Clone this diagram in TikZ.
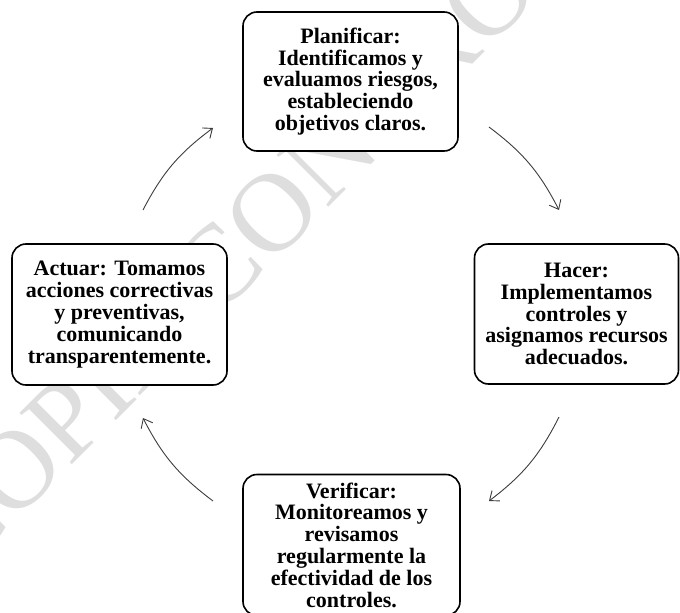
\documentclass[tikz,border=0pt]{standalone}
\usepackage{fontspec}
\setmainfont{Liberation Serif}
\usetikzlibrary{
  arrows.meta
}
\definecolor{boxline}{RGB}{0,0,0}
\definecolor{arrowgray}{RGB}{60,60,60}
\definecolor{markgray}{RGB}{222,222,222}
\tikzset{
  phasebox/.style={
    draw=boxline, fill=white, line width=1.6pt,
    rounded corners=14pt, minimum width=215pt,
    minimum height=139pt, align=center, inner sep=4pt,
    font=\fontsize{22}{21.8}\selectfont\bfseries
  },
  cyclearrow/.style={
    -{Straight Barb[length=8pt,width=13pt]},
    draw=arrowgray, line width=0.9pt
  },
  watermark/.style={
    font=\fontsize{112}{112}\selectfont, text=markgray,
    rotate=45, inner sep=0pt
  },
}
\begin{document}
\begin{tikzpicture}[x=1pt, y=1pt]

  \useasboundingbox (0,0) rectangle (680,-613);

  %% Watermark behind everything
  \node[watermark] (wm) at (335,-150) {COPIA CONTROLADA};

  %% Phases of the cycle
  \node[phasebox] (plan) at (350.5,-81.5)
    {Planificar:\\Identificamos y\\evaluamos riesgos,\\estableciendo\\objetivos claros.};
  \node[phasebox, minimum width=204pt, minimum height=140pt] (hacer) at (576.5,-314)
    {Hacer:\\Implementamos\\controles y\\asignamos recursos\\adecuados.};
  \node[phasebox, minimum width=217pt, minimum height=141pt] (verif) at (351.5,-545)
    {Verificar:\\Monitoreamos y\\revisamos\\regularmente la\\efectividad de los\\controles.};
  \node[phasebox, minimum height=141pt] (actuar) at (119.5,-314.5)
    {Actuar: Tomamos\\acciones correctivas\\y preventivas,\\comunicando\\transparentemente.};

  %% Arrow ends on the circle round the cycle
  \coordinate (a2p) at (143,-210);
  \coordinate (p2a) at (213,-128);
  \coordinate (p2h) at (489,-127);
  \coordinate (h2p) at (559,-210);
  \coordinate (h2v) at (559,-417);
  \coordinate (v2h) at (489,-501);
  \coordinate (v2a) at (213,-501);
  \coordinate (a2v) at (143,-418);

  %% Arrows
  \draw[cyclearrow] (a2p) to[bend left=13] (p2a);
  \draw[cyclearrow] (p2h) to[bend left=13] (h2p);
  \draw[cyclearrow] (h2v) to[bend left=13] (v2h);
  \draw[cyclearrow] (v2a) to[bend left=13] (a2v);

\end{tikzpicture}
\end{document}
